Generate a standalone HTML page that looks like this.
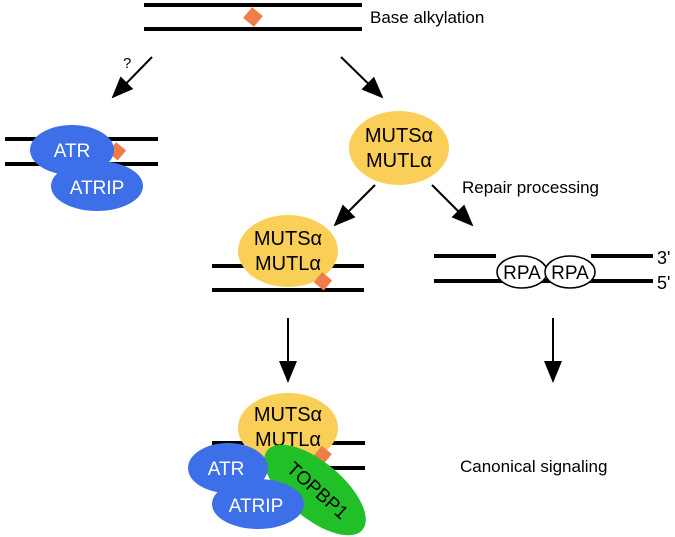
<!DOCTYPE html>
<html><head><meta charset="utf-8"><style>
html,body{margin:0;padding:0;background:#fff;}
svg{display:block;font-family:"Liberation Sans",sans-serif;}
</style></head><body>
<svg width="675" height="537" viewBox="0 0 675 537">
<defs>
<marker id="ah" markerWidth="22" markerHeight="18" refX="20" refY="9" orient="auto" markerUnits="userSpaceOnUse" viewBox="0 0 22 18">
<path d="M0,0 L22,9 L0,18 z" fill="#000"/></marker>
</defs>
<g stroke="#000" stroke-width="2">
<line x1="152" y1="57" x2="113" y2="97" marker-end="url(#ah)"/>
<line x1="341" y1="57" x2="382" y2="97" marker-end="url(#ah)"/>
<line x1="375" y1="185" x2="335" y2="225" marker-end="url(#ah)"/>
<line x1="432" y1="185" x2="472" y2="225" marker-end="url(#ah)"/>
<line x1="288" y1="318" x2="288" y2="381" marker-end="url(#ah)"/>
<line x1="553" y1="318" x2="553" y2="381" marker-end="url(#ah)"/>
</g>
<g>
<line x1="144" y1="5" x2="362" y2="5" stroke="#000" stroke-width="4"/>
<line x1="144" y1="29" x2="362" y2="29" stroke="#000" stroke-width="4"/>
<rect x="246" y="10" width="14" height="14" fill="#f07c4a" transform="rotate(40 253 17)"/>
</g>
<text x="370" y="23" font-size="17">Base alkylation</text>
<text x="123" y="68" font-size="15">?</text>
<g>
<line x1="5" y1="139" x2="158" y2="139" stroke="#000" stroke-width="4"/>
<line x1="5" y1="164" x2="158" y2="164" stroke="#000" stroke-width="4"/>
<rect x="110" y="145" width="13" height="13" fill="#f07c4a" transform="rotate(40 117 152)"/>
<ellipse cx="97" cy="186" rx="46" ry="25" fill="#3d6fe8"/>
<ellipse cx="72" cy="150" rx="42" ry="25" fill="#3d6fe8"/>
<text x="72" y="157" font-size="19" fill="#fff" text-anchor="middle">ATR</text>
<text x="97" y="194" font-size="19" fill="#fff" text-anchor="middle">ATRIP</text>
</g>
<g>
<ellipse cx="399" cy="148" rx="50" ry="37" fill="#f9cf57"/>
<text x="399" y="142" font-size="20" text-anchor="middle">MUTSα</text>
<text x="399" y="167" font-size="20" text-anchor="middle">MUTLα</text>
</g>
<text x="462" y="193" font-size="17">Repair processing</text>
<g>
<line x1="212" y1="266" x2="364" y2="266" stroke="#000" stroke-width="4"/>
<line x1="212" y1="290" x2="364" y2="290" stroke="#000" stroke-width="4"/>
<ellipse cx="288" cy="251" rx="50" ry="36" fill="#f9cf57"/>
<rect x="316" y="275" width="13" height="13" fill="#f07c4a" transform="rotate(40 323 282)"/>
<text x="288" y="245" font-size="20" text-anchor="middle">MUTSα</text>
<text x="288" y="270" font-size="20" text-anchor="middle">MUTLα</text>
</g>
<g>
<line x1="434" y1="256" x2="496" y2="256" stroke="#000" stroke-width="4"/>
<line x1="591" y1="256" x2="653" y2="256" stroke="#000" stroke-width="4"/>
<line x1="434" y1="281" x2="653" y2="281" stroke="#000" stroke-width="4"/>
<ellipse cx="522" cy="272" rx="25" ry="16" fill="#fff" stroke="#000" stroke-width="1.5"/>
<ellipse cx="570" cy="272" rx="25" ry="16" fill="#fff" stroke="#000" stroke-width="1.5"/>
<text x="522" y="279" font-size="19" text-anchor="middle">RPA</text>
<text x="570" y="279" font-size="19" text-anchor="middle">RPA</text>
<text x="657" y="264" font-size="18">3'</text>
<text x="657" y="289" font-size="18">5'</text>
</g>
<g>
<line x1="212" y1="443" x2="365" y2="443" stroke="#000" stroke-width="4"/>
<line x1="212" y1="468" x2="365" y2="468" stroke="#000" stroke-width="4"/>
<ellipse cx="288" cy="428" rx="50" ry="35" fill="#f9cf57"/>
<rect x="316" y="448" width="13" height="13" fill="#f07c4a" transform="rotate(40 322 455)"/>
<text x="288" y="421" font-size="20" text-anchor="middle">MUTSα</text>
<text x="288" y="446" font-size="20" text-anchor="middle">MUTLα</text>
<ellipse cx="315" cy="490" rx="62" ry="28" fill="#22c028" transform="rotate(40 315 490)"/>
<text x="318" y="497" font-size="19" text-anchor="middle" transform="rotate(42 318 490)">TOPBP1</text>
<ellipse cx="258" cy="504" rx="46" ry="25" fill="#3d6fe8"/>
<ellipse cx="228" cy="468" rx="40" ry="25" fill="#3d6fe8"/>
<text x="226" y="475" font-size="19" fill="#fff" text-anchor="middle">ATR</text>
<text x="256" y="512" font-size="19" fill="#fff" text-anchor="middle">ATRIP</text>
</g>
<text x="460" y="472" font-size="17">Canonical signaling</text>
</svg>
</body></html>
